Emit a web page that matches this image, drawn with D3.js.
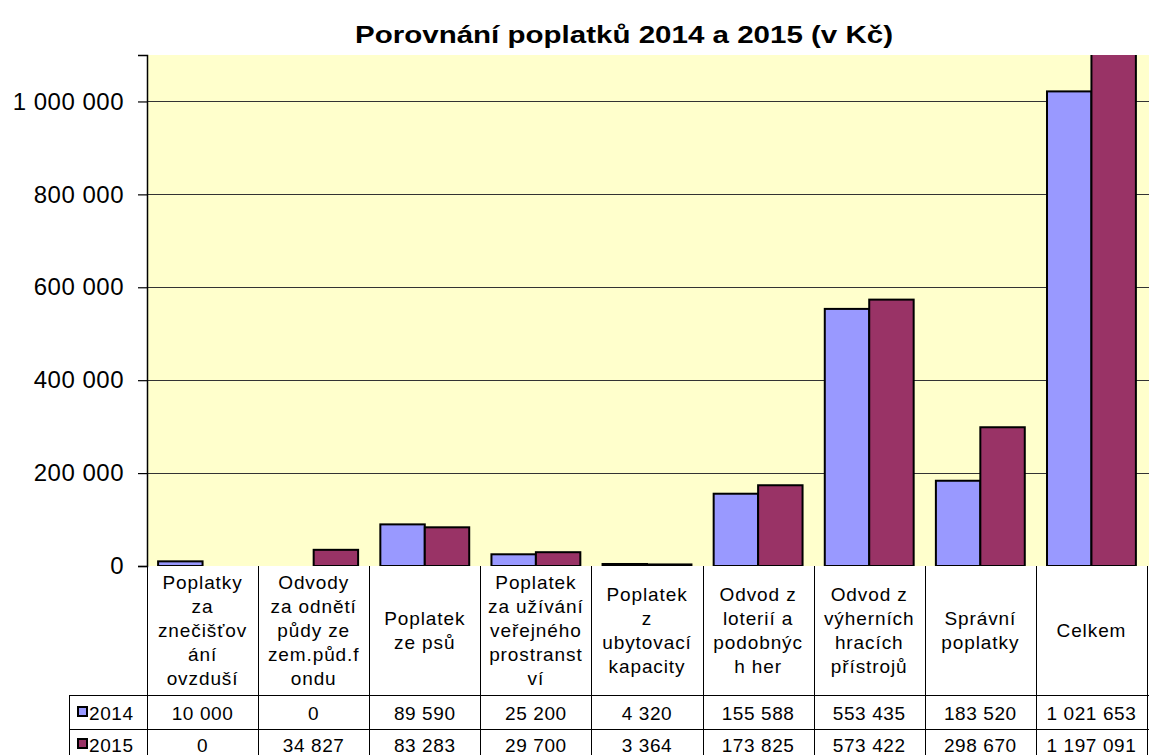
<!DOCTYPE html>
<html>
<head>
<meta charset="utf-8">
<script src="https://cdn.jsdelivr.net/npm/d3@7"></script>
<style>
  body { margin: 0; background: #fff; }
  svg { display: block; }
  text { font-family: "Liberation Sans", Arial, sans-serif; fill: #000; }
</style>
</head>
<body>
<script>
// data
var categories = [
    'Poplatky\nza\nznečišťov\nání\novzduší',
    'Odvody\nza odnětí\npůdy ze\nzem.půd.f\nondu',
    'Poplatek\nze psů',
    'Poplatek\nza užívání\nveřejného\nprostranst\nví',
    'Poplatek\nz\nubytovací\nkapacity',
    'Odvod z\nloterií a\npodobnýc\nh her',
    'Odvod z\nvýherních\nhracích\npřístrojů',
    'Správní\npoplatky',
    'Celkem'
];
var seriesNames = ['2014', '2015'];
var values2014 = [10000, 0, 89590, 25200, 4320, 155588, 553435, 183520, 1021653];
var values2015 = [0, 34827, 83283, 29700, 3364, 173825, 573422, 298670, 1197091];
var yTicks = [0, 200000, 400000, 600000, 800000, 1000000];
var colors = ['#9999FF', '#993366'];

var series = [values2014, values2015];

var width = 1149, height = 755;
var margin = { top: 55, left: 147, right: 1149, bottom: 566 };

var svg = d3.select('body')
    .append('svg')
    .attr('width', width)
    .attr('height', height);

svg.append('defs')
    .append('clipPath')
    .attr('id', 'clip')
    .append('rect')
    .attr('x', margin.left)
    .attr('y', margin.top)
    .attr('width', margin.right - margin.left)
    .attr('height', margin.bottom - margin.top);

// scales
var x0 = d3.scaleBand()
    .domain(d3.range(categories.length))
    .range([margin.left, margin.left + 1000])
    .paddingInner(0.2)
    .paddingOuter(0.1);
var x1 = d3.scaleBand()
    .domain(d3.range(series.length))
    .range([0, x0.bandwidth()]);
var y = d3.scaleLinear()
    .domain([0, 1100000])
    .range([margin.bottom, margin.top]);

var fmt = function (v) {
    return d3.format(',')(v).replace(/,/g, '\u00a0');
};

// plot area
svg.append('rect')
    .attr('x', margin.left)
    .attr('y', margin.top)
    .attr('width', margin.right - margin.left)
    .attr('height', margin.bottom - margin.top)
    .attr('fill', '#FFFFCC');

// gridlines
svg.append('g')
    .selectAll('line')
    .data(yTicks.filter(function (d) { return d > 0; })).enter()
    .append('line')
    .attr('x1', margin.left)
    .attr('x2', margin.right)
    .attr('y1', function (d) { return Math.round(y(d)) + 0.5; })
    .attr('y2', function (d) { return Math.round(y(d)) + 0.5; })
    .attr('stroke', '#333')
    .attr('stroke-width', 1.2);

// bars
var groups = svg.append('g')
    .attr('clip-path', 'url(#clip)')
    .selectAll('g')
    .data(series).enter()
    .append('g')
    .attr('fill', function (d, i) { return colors[i]; });

groups.selectAll('rect')
    .data(function (d, i) {
        return d.map(function (v, j) { return { s: i, c: j, v: v }; });
    }).enter()
    .filter(function (d) { return d.v > 0; })
    .append('rect')
    .attr('x', function (d) { return x0(d.c) + x1(d.s); })
    .attr('y', function (d) { return y(d.v); })
    .attr('width', x1.bandwidth())
    .attr('height', function (d) { return y(0) - y(d.v); })
    .attr('stroke', '#000')
    .attr('stroke-width', 2);

// y axis
var y_axis = d3.axisLeft(y)
    .tickValues(yTicks)
    .tickSize(9)
    .tickPadding(14)
    .tickFormat(fmt);

var ya = svg.append('g')
    .attr('transform', 'translate(' + margin.left + ',0)')
    .call(y_axis);
ya.select('.domain').attr('stroke', '#000').attr('stroke-width', 1.5);
ya.selectAll('.tick line').attr('stroke', '#000').attr('stroke-width', 1.2);
ya.selectAll('.tick text')
    .attr('font-size', 24)
    .attr('letter-spacing', 0.5)
    .attr('font-family', '"Liberation Sans", Arial, sans-serif');

// data table
var rowTop = margin.bottom, row1 = 695, row2 = 729, tableLeft = 69.5;
var table = svg.append('g')
    .attr('stroke', '#000')
    .attr('stroke-width', 1);

var bounds = d3.range(categories.length + 1).map(function (i) {
    return margin.left + i * x0.step();
});
table.selectAll('line.v')
    .data(bounds).enter()
    .append('line')
    .attr('x1', function (d) { return Math.round(d) + 0.5; })
    .attr('x2', function (d) { return Math.round(d) + 0.5; })
    .attr('y1', rowTop)
    .attr('y2', height);
table.append('line')
    .attr('x1', tableLeft).attr('x2', tableLeft)
    .attr('y1', row1).attr('y2', height);
table.selectAll('line.h')
    .data([row1, row2]).enter()
    .append('line')
    .attr('x1', tableLeft)
    .attr('x2', width)
    .attr('y1', function (d) { return d + 0.5; })
    .attr('y2', function (d) { return d + 0.5; });

// category labels
var lh = 24;
svg.append('g')
    .selectAll('text')
    .data(categories).enter()
    .append('text')
    .attr('text-anchor', 'middle')
    .attr('font-size', 19)
    .attr('letter-spacing', 0.9)
    .each(function (d, i) {
        var lines = d.split('\n');
        var cx = x0(i) + x0.bandwidth() / 2;
        var cy = (rowTop + row1) / 2 + 6.5;
        d3.select(this).selectAll('tspan')
            .data(lines).enter()
            .append('tspan')
            .attr('x', cx)
            .attr('y', function (l, k) { return cy + (k - (lines.length - 1) / 2) * lh; })
            .text(function (l) { return l; });
    });

// value rows
var rowBase = [720, 752];
series.forEach(function (vals, s) {
    svg.append('g')
        .selectAll('text')
        .data(vals).enter()
        .append('text')
        .attr('x', function (d, i) { return x0(i) + x0.bandwidth() / 2; })
        .attr('y', rowBase[s])
        .attr('text-anchor', 'middle')
        .attr('font-size', 19)
        .attr('letter-spacing', 0.6)
        .text(fmt);

    svg.append('rect')
        .attr('x', 78)
        .attr('y', rowBase[s] - 13)
        .attr('width', 9)
        .attr('height', 9)
        .attr('fill', colors[s])
        .attr('stroke', '#000')
        .attr('stroke-width', 2);
    svg.append('text')
        .attr('x', 89)
        .attr('y', rowBase[s])
        .attr('font-size', 19)
        .attr('letter-spacing', 0.6)
        .text(seriesNames[s]);
});

// title
svg.append('text')
    .attr('x', 624)
    .attr('y', 43)
    .attr('text-anchor', 'middle')
    .attr('font-size', 24)
    .attr('font-weight', 'bold')
    .attr('textLength', 538)
    .attr('lengthAdjust', 'spacingAndGlyphs')
    .text('Porovnání poplatků 2014 a 2015 (v Kč)');
</script>
</body>
</html>
